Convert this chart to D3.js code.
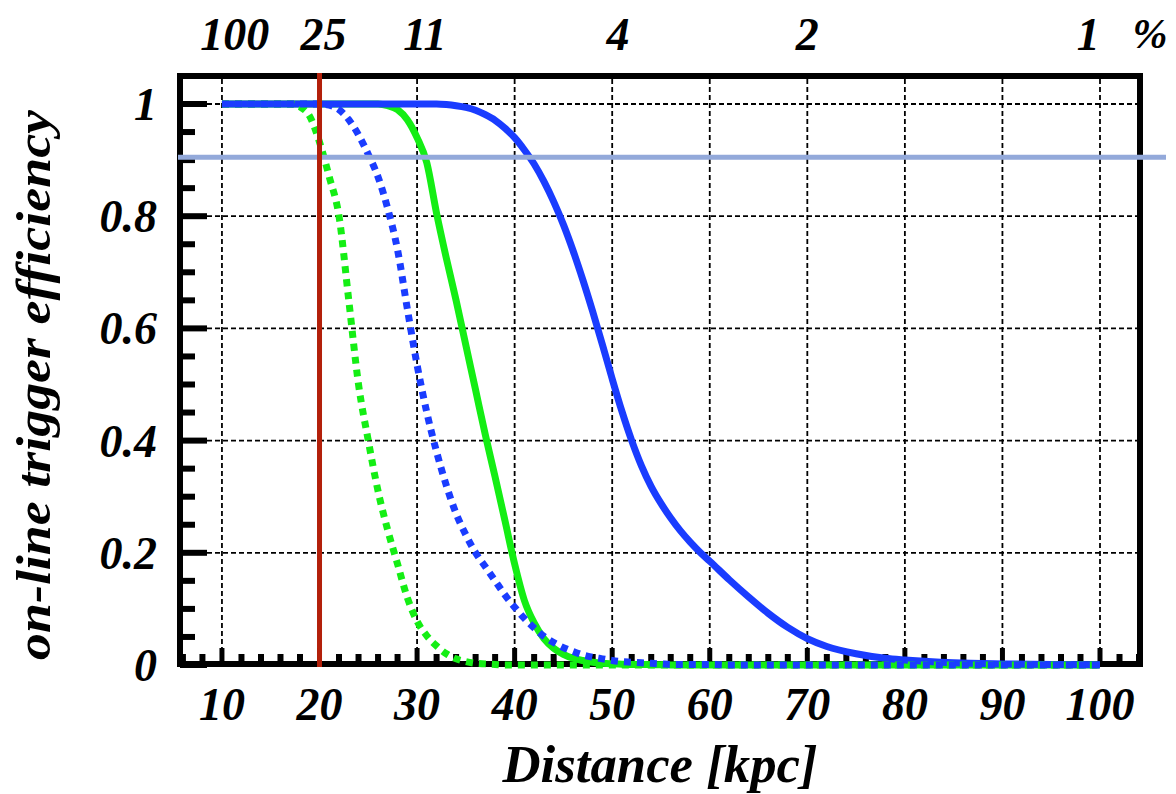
<!DOCTYPE html>
<html>
<head>
<meta charset="utf-8">
<script src="https://cdn.jsdelivr.net/npm/d3@7"></script>
<style>
  html, body { margin: 0; padding: 0; background: #fff; }
  svg text { font-family: "Liberation Serif", "Times New Roman", serif; font-weight: bold; font-style: italic; fill: #000; }
</style>
</head>
<body>
<svg id="chart" width="1176" height="794"></svg>
<script>
// Distance grid (kpc) shared by all efficiency curves
const distance = [10,14,17,18,19,20,21,22,23,24,25,26,27,28,29,30,31,32,33,34,35,36,37,38,39,40,
  41,42,43,44,45,46,47,48,49,50,51,52,53,54,55,56,57,58,59,60,62,64,66,68,70,72,75,78,80,85,90,95,100];

// Blue, solid
const effBlueSolid = [1,1,1,1,1,1,1,1,1,1,1,1,1,1,1,1,1,1,0.999,0.997,0.994,0.989,0.981,0.971,0.957,0.94,
  0.918,0.893,0.862,0.826,0.785,0.738,0.686,0.63,0.571,0.51,0.452,0.4,0.355,0.318,0.288,0.262,0.239,0.219,0.201,0.185,
  0.152,0.121,0.092,0.067,0.047,0.033,0.02,0.012,0.009,0.004,0.002,0.001,0.0005];

// Green, solid
const effGreenSolid = [1,1,1,1,1,1,1,1,1,1,1,1,0.997,0.99,0.972,0.94,0.895,0.805,0.725,0.65,0.57,0.49,0.41,0.335,0.258,0.18,
  0.115,0.075,0.047,0.03,0.019,0.012,0.008,0.005,0.003,0.002,0.0015,0.001,0.001,0.0005,0.0005,0,0,0,0,0,
  0,0,0,0,0,0,0,0,0,0,0,0,0];

// Blue, dotted
const effBlueDotted = [1,1,1,1,1,1,0.998,0.99,0.972,0.945,0.91,0.87,0.813,0.74,0.635,0.535,0.45,0.38,0.32,0.27,0.232,0.2,0.175,0.15,0.125,0.103,
  0.083,0.066,0.051,0.04,0.031,0.024,0.018,0.014,0.011,0.008,0.006,0.005,0.004,0.003,0.002,0.001,0.001,0.001,0.001,0.001,
  0,0,0,0,0,0,0,0,0,0,0,0,0];

// Green, dotted
const effGreenDotted = [1,1,1,0.995,0.978,0.932,0.87,0.8,0.65,0.5,0.4,0.31,0.24,0.18,0.12,0.078,0.052,0.034,0.02,0.011,0.006,0.003,0.002,0.001,0,0,
  0,0,0,0,0,0,0,0,0,0,0,0,0,0,0,0,0,0,0,0,
  0,0,0,0,0,0,0,0,0,0,0,0,0];

// Reference lines
const markerDistance = 20;      // vertical marker (kpc)
const thresholdEff = 0.905;     // horizontal threshold

// Axis ticks
const xTicks = [10,20,30,40,50,60,70,80,90,100];
const yTicks = [0,0.2,0.4,0.6,0.8,1];
const yTickLabels = ["0","0.2","0.4","0.6","0.8","1"];

// Upper scale: percentage labels placed at distance
const topLabelDist = [11.3, 20.4, 30.8, 50.6, 70, 98.8];
const topLabelText = ["100","25","11","4","2","1"];

const svg = d3.select("#chart");

const x = d3.scaleLinear().domain([5.7, 104.1]).range([180, 1140]);
const y = d3.scaleLinear().domain([0, 1]).range([665, 104]);

const frameL = 180, frameR = 1140, frameT = 76, frameB = 664;
const bw = 6;

// Grid
const grid = svg.append("g");
grid.selectAll("line.gx").data(xTicks).join("line")
  .attr("x1", d => x(d)).attr("x2", d => x(d))
  .attr("y1", frameT + bw/2).attr("y2", frameB - bw/2)
  .attr("stroke", "#000").attr("stroke-width", 1.8).attr("stroke-dasharray", "5 3");
grid.selectAll("line.gy").data(yTicks.filter(v => v > 0)).join("line")
  .attr("x1", frameL + bw/2).attr("x2", frameR - bw/2)
  .attr("y1", d => y(d)).attr("y2", d => y(d))
  .attr("stroke", "#000").attr("stroke-width", 1.8).attr("stroke-dasharray", "5 3");

// Frame
svg.append("rect")
  .attr("x", frameL).attr("y", frameT).attr("width", frameR - frameL).attr("height", frameB - frameT)
  .attr("fill", "none").attr("stroke", "#000").attr("stroke-width", bw);

// Left ticks: minor every 0.05, major every 0.2
const yMinor = d3.range(0, 21).map(i => i * 0.05);
svg.append("g").selectAll("line").data(yMinor).join("line")
  .attr("x1", frameL).attr("x2", (d, i) => frameL + bw/2 + (i % 4 === 0 ? 24 : 12))
  .attr("y1", d => y(d)).attr("y2", d => y(d))
  .attr("stroke", "#000").attr("stroke-width", 6);

// Bottom ticks: minor every 2 kpc, major every 10
const xMinor = d3.range(6, 105, 2);
svg.append("g").selectAll("line").data(xMinor).join("line")
  .attr("x1", d => x(d)).attr("x2", d => x(d))
  .attr("y1", frameB).attr("y2", d => frameB - bw/2 - (d % 10 === 0 ? 13 : 7))
  .attr("stroke", "#000").attr("stroke-width", d => d % 10 === 0 ? 5 : 6);

// Curves
const line = d3.line().x(d => x(d[0])).y(d => y(d[1])).curve(d3.curveMonotoneX);
const series = [
  { values: effGreenSolid, color: "#14ee14", dash: null },
  { values: effBlueSolid, color: "#1a3cff", dash: null },
  { values: effGreenDotted, color: "#14ee14", dash: "7 6" },
  { values: effBlueDotted, color: "#1a3cff", dash: "7 6" }
];
svg.append("g").selectAll("path").data(series).join("path")
  .attr("d", s => line(distance.map((d, i) => [d, s.values[i]])))
  .attr("fill", "none")
  .attr("stroke", s => s.color)
  .attr("stroke-width", 7)
  .attr("stroke-dasharray", s => s.dash)
  .attr("stroke-linecap", "butt")
  .attr("stroke-linejoin", "round");

// Threshold line
svg.append("line")
  .attr("x1", frameL - 2).attr("x2", 1166)
  .attr("y1", y(thresholdEff)).attr("y2", y(thresholdEff))
  .attr("stroke", "#93a9da").attr("stroke-width", 5);

// Marker line
svg.append("line")
  .attr("x1", x(markerDistance)).attr("x2", x(markerDistance))
  .attr("y1", frameT - bw/2).attr("y2", frameB + bw/2)
  .attr("stroke", "#b3200a").attr("stroke-width", 5);

// Bottom tick labels
svg.append("g").selectAll("text").data(xTicks).join("text")
  .attr("x", d => x(d)).attr("y", 720)
  .attr("text-anchor", "middle").attr("font-size", 46)
  .text(d => d);

// Left tick labels
svg.append("g").selectAll("text").data(yTicks).join("text")
  .attr("x", 157).attr("y", d => y(d) + 16)
  .attr("text-anchor", "end").attr("font-size", 46)
  .text((d, i) => yTickLabels[i]);

// Top percentage labels
svg.append("g").selectAll("text").data(topLabelDist).join("text")
  .attr("x", d => x(d)).attr("y", 50)
  .attr("text-anchor", "middle").attr("font-size", 46)
  .text((d, i) => topLabelText[i]);
svg.append("text").attr("x", 1150).attr("y", 48)
  .attr("text-anchor", "middle").attr("font-size", 42).text("%");

// Axis titles
svg.append("text").attr("x", 660).attr("y", 782)
  .attr("text-anchor", "middle").attr("font-size", 52)
  .attr("textLength", 315).attr("lengthAdjust", "spacingAndGlyphs")
  .text("Distance [kpc]");
svg.append("text")
  .attr("transform", "translate(50,385) rotate(-90)")
  .attr("text-anchor", "middle").attr("font-size", 48)
  .attr("textLength", 550).attr("lengthAdjust", "spacingAndGlyphs")
  .text("on-line trigger efficiency");
</script>
</body>
</html>
